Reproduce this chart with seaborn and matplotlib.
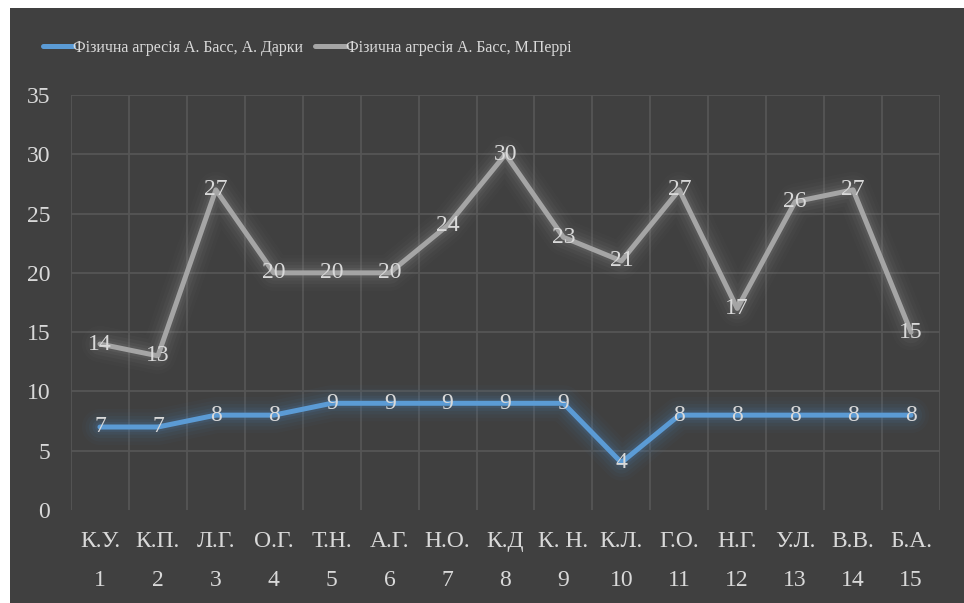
import matplotlib
matplotlib.use("Agg")
import matplotlib.pyplot as plt
import matplotlib.patheffects as pe
from matplotlib.patches import Rectangle
from matplotlib.lines import Line2D
import seaborn as sns
import pandas as pd
import numpy as np

initials = ["К.У.", "К.П.", "Л.Г.", "О.Г.", "Т.Н.", "А.Г.", "Н.О.", "К.Д", "К. Н.", "К.Л.",
            "Г.О.", "Н.Г.", "У.Л.", "В.В.", "Б.А."]
numbers = ["1", "2", "3", "4", "5", "6", "7", "8", "9", "10", "11", "12", "13", "14", "15"]
series_darky = [7, 7, 8, 8, 9, 9, 9, 9, 9, 4, 8, 8, 8, 8, 8]
series_perry = [14, 13, 27, 20, 20, 20, 24, 30, 23, 21, 27, 17, 26, 27, 15]
name_darky = "Фізична агресія А. Басс, А. Дарки"
name_perry = "Фізична агресія А. Басс, М.Перрі"
yticks = [0, 5, 10, 15, 20, 25, 30, 35]

BG = "#404040"
GRID = "#565656"
TXT = "#d9d9d9"
BLUE = "#5b9bd5"
GRAY = "#a5a5a5"
FS = 17

sns.set_theme(style="dark")
plt.rcParams["font.family"] = ["Liberation Serif", "DejaVu Serif"]

df = pd.DataFrame({
    "x": list(range(len(initials))) * 2,
    "value": series_darky + series_perry,
    "series": [name_darky] * len(initials) + [name_perry] * len(initials),
})

W, H = 964, 603
fig = plt.figure(figsize=(W / 100, H / 100), dpi=100)
fig.patch.set_facecolor("white")
fig.patches.append(Rectangle((10 / W, 0), 1 - 10 / W, 1 - 8 / H, transform=fig.transFigure,
                             facecolor=BG, edgecolor="none", zorder=-10))

left, right, top, bottom = 71, 940, 95, 510
ax = fig.add_axes([left / W, 1 - bottom / H, (right - left) / W, (bottom - top) / H])
ax.set_facecolor(BG)
ax.patch.set_alpha(0)

sns.lineplot(data=df, x="x", y="value", hue="series", palette=[BLUE, GRAY],
             linewidth=3.6, ax=ax, legend=False, sort=False)

glow = {0: "#4a80b8", 1: "#8c8c8c"}
for i, line in enumerate(ax.get_lines()):
    c = glow[i]
    line.set_solid_capstyle("round")
    line.set_solid_joinstyle("round")
    line.set_zorder(3)
    line.set_path_effects([
        pe.Stroke(linewidth=26, foreground=c, alpha=0.04),
        pe.Stroke(linewidth=21, foreground=c, alpha=0.05),
        pe.Stroke(linewidth=16, foreground=c, alpha=0.07),
        pe.Stroke(linewidth=11, foreground=c, alpha=0.10),
        pe.Stroke(linewidth=7, foreground=c, alpha=0.14),
        pe.Normal(),
    ])

for vals in (series_darky, series_perry):
    for i, v in enumerate(vals):
        ax.text(i, v, str(v), ha="center", va="center", color=TXT, fontsize=FS, zorder=5)

ax.set_xlim(-0.5, len(initials) - 0.5)
ax.set_ylim(0, 35)
ax.set_yticks(yticks)
ax.set_yticklabels([str(t) for t in yticks])
ax.set_xticks(range(len(initials)))
ax.set_xticklabels(initials)
ax.tick_params(axis="y", colors=TXT, labelsize=FS, pad=15, length=0)
ax.tick_params(axis="x", colors=TXT, labelsize=FS, pad=15, length=0)
for lab in ax.get_xticklabels() + ax.get_yticklabels():
    lab.set_color(TXT)

for i, n in enumerate(numbers):
    ax.text(i, -70 / 415, n, transform=ax.get_xaxis_transform(), ha="center", va="center",
            color=TXT, fontsize=FS, clip_on=False)

# gridlines
for t in yticks[1:]:
    ax.axhline(t, color=GRID, linewidth=1.3, zorder=0.5)
for b in np.arange(-0.5, len(initials), 1.0):
    ax.axvline(b, color=GRID, linewidth=1.3, zorder=0.5)
ax.grid(False)
for s in ax.spines.values():
    s.set_visible(False)
ax.set_xlabel("")
ax.set_ylabel("")

handles = [Line2D([], [], color=BLUE, linewidth=3.6, solid_capstyle="round"),
           Line2D([], [], color=GRAY, linewidth=3.6, solid_capstyle="round")]
leg = fig.legend(handles, [name_darky, name_perry], loc="center left",
                 bbox_to_anchor=(43 / W, 1 - 48 / H),
                 ncol=2, frameon=False, fontsize=11.5, handlelength=1.9, handletextpad=0.0,
                 columnspacing=0.75, borderpad=0, borderaxespad=0)
for t in leg.get_texts():
    t.set_color(TXT)

fig.savefig("out.png", dpi=100, facecolor=fig.get_facecolor())
